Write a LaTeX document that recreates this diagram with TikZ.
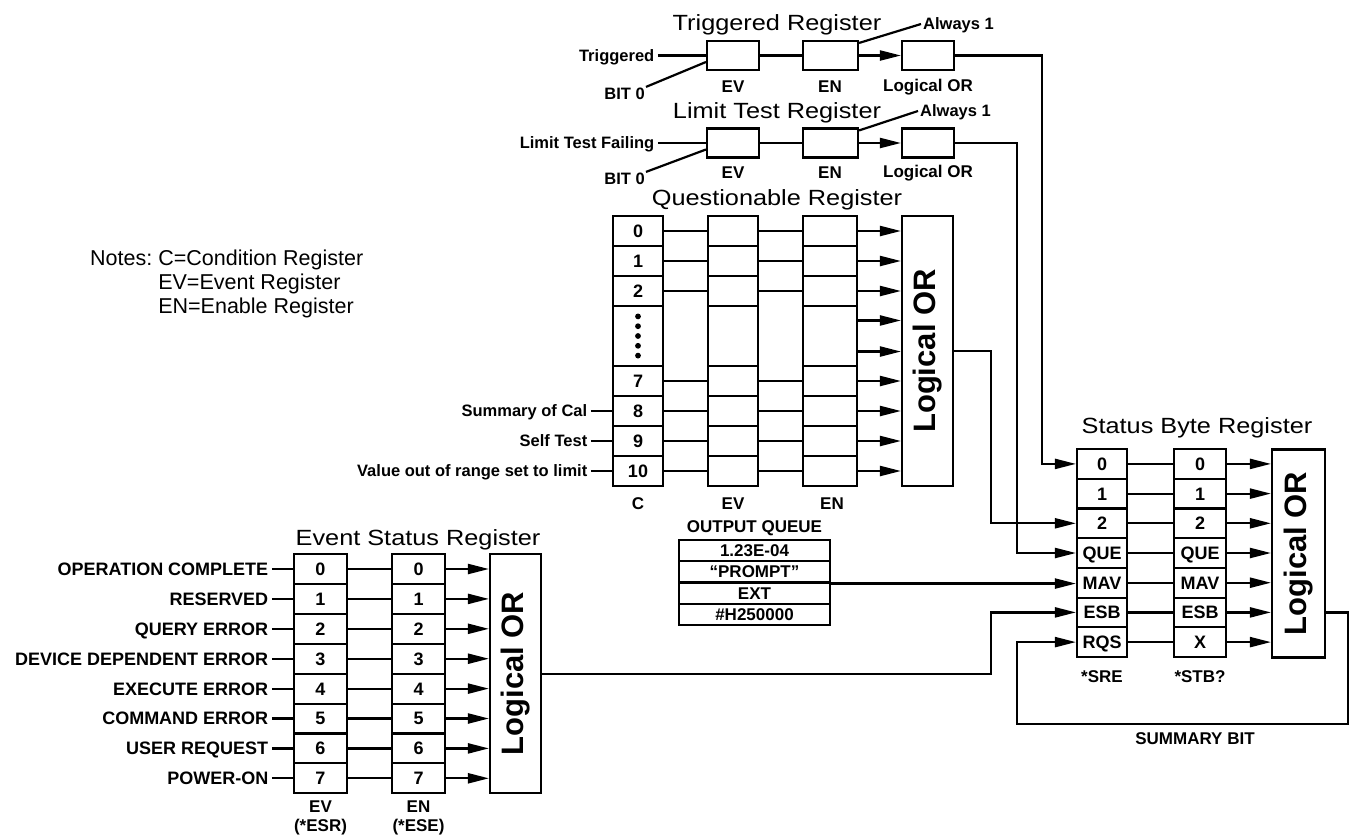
\documentclass[tikz,border=0pt]{standalone}
\usepackage{fontspec}
\setmainfont{Liberation Sans}
\newfontfamily\stretchsans[FakeStretch=1.15]{Liberation Sans}
\usetikzlibrary{arrows.meta,calc,positioning}

\newcommand{\regtitlefont}{\stretchsans\fontsize{22}{24}\selectfont}
\newcommand{\cellfont}{\bfseries\fontsize{18}{20}\selectfont}
\newcommand{\lblfont}{\bfseries\fontsize{16.5}{18}\selectfont}
\newcommand{\biglblfont}{\bfseries\fontsize{18}{20}\selectfont}
\newcommand{\subfont}{\bfseries\fontsize{17}{19}\selectfont}
\newcommand{\queuefont}{\bfseries\fontsize{17}{19}\selectfont}
\newcommand{\orfont}{\bfseries\fontsize{31}{34}\selectfont}
\newcommand{\notesfont}{\fontsize{21.5}{24}\selectfont}

\begin{document}
\begin{tikzpicture}[
  x=1pt, y=-1pt,
  wire/.style={line width=2.2pt},
  arr/.style={wire, -{Triangle[length=21pt,width=10pt]}},
  cell/.style={draw, line width=2.1pt, inner sep=0pt, minimum width=50pt,
    minimum height=30pt, font=\cellfont, text height=12.9pt, text depth=0pt},
  qcell/.style={cell, minimum height=21.25pt, minimum width=151pt, font=\queuefont,
    text height=12.2pt},
  orbox/.style={draw, line width=2.1pt, inner sep=0pt, minimum width=52pt, font=\orfont},
  lbl/.style={font=\lblfont, inner sep=3.5pt, text height=11.8pt, text depth=0pt},
  biglbl/.style={font=\biglblfont, inner sep=3.5pt, text height=12.9pt, text depth=0pt},
  sub/.style={font=\subfont, inner sep=1pt},
  regtitle/.style={font=\regtitlefont, anchor=base, inner sep=0pt}
]
\useasboundingbox (0,0) rectangle (1354,836);

% Triggered Register
\node[regtitle] (trTitle) at (777,30) {Triggered Register};
\node[cell, minimum width=52pt, minimum height=29pt] (trEV) at (733,55.5) {};
\node[cell, minimum width=55pt, minimum height=29pt] (trEN) at (830.5,55.5) {};
\node[cell, minimum width=52pt, minimum height=29pt] (trOR) at (928,55.5) {};
\node[lbl, left=48pt of trEV] (trIn) {Triggered};
\node[lbl, anchor=east, inner sep=1pt] (trBit) at (646,94) {BIT 0};
\node[lbl, anchor=west, inner sep=2pt] (trAlw) at (921,24) {Always 1};
\node[sub] (trEVl) at (733,87) {EV};
\node[sub] (trENl) at (830,87) {EN};
\node[sub] (trORl) at (928,87) {Logical OR};
\draw[wire] (trIn) -- (trEV);
\draw[wire] (trBit.north east) -- ($(trEV.west)+(0,6.5)$);
\draw[wire] (trEV) -- (trEN);
\draw[arr] (trEN) -- (trOR);
\draw[wire] ($(trEN.north east)+(0,3)$) -- (trAlw.west);

% Limit Test Register
\node[regtitle] (ltTitle) at (777,118) {Limit Test Register};
\node[cell, minimum width=52pt, minimum height=29pt] (ltEV) at (733,143) {};
\node[cell, minimum width=55pt, minimum height=29pt] (ltEN) at (830.5,143) {};
\node[cell, minimum width=52pt, minimum height=29pt] (ltOR) at (928,143) {};
\node[lbl, left=48pt of ltEV] (ltIn) {Limit Test Failing};
\node[lbl, anchor=east, inner sep=1pt] (ltBit) at (646,179) {BIT 0};
\node[lbl, anchor=west, inner sep=2pt] (ltAlw) at (918,111) {Always 1};
\node[sub] (ltEVl) at (733,173) {EV};
\node[sub] (ltENl) at (830,173) {EN};
\node[sub] (ltORl) at (928,173) {Logical OR};
\draw[wire] (ltIn) -- (ltEV);
\draw[wire] (ltBit.north east) -- ($(ltEV.west)+(0,6.5)$);
\draw[wire] (ltEV) -- (ltEN);
\draw[arr] (ltEN) -- (ltOR);
\draw[wire] ($(ltEN.north east)+(0,3)$) -- (ltAlw.west);

% Questionable Register
\node[regtitle] (qTitle) at (777,205) {Questionable Register};
\node[orbox, minimum width=51pt, minimum height=270pt] (qOR) at (927.5,351) {\rotatebox{90}{Logical OR}};
\foreach \r/\yy in {0/231,1/261,2/291,7/381,8/411,9/441,10/471}{
  \node[cell] (qC\r) at (638,\yy) {\r};
  \node[cell] (qEV\r) at (733,\yy) {};
  \node[cell, minimum width=54pt] (qEN\r) at (830,\yy) {};
  \draw[wire] (qC\r) -- (qEV\r);
  \draw[wire] (qEV\r) -- (qEN\r);
  \draw[arr] (qEN\r) -- (qEN\r -| qOR.west);
}
\node[cell, minimum height=60pt] (qCd) at (638,336) {};
\node[cell, minimum height=60pt] (qEVd) at (733,336) {};
\node[cell, minimum width=54pt, minimum height=60pt] (qENd) at (830,336) {};
\foreach \k in {-2,...,2}
  \fill ($(qCd.center)+(0,{9.8*\k})$) circle (2.9pt);
\coordinate (qDa) at ($(qENd.north east)!0.25!(qENd.south east)$);
\coordinate (qDb) at ($(qENd.north east)!0.75!(qENd.south east)$);
\draw[arr] (qDa) -- (qDa -| qOR.west);
\draw[arr] (qDb) -- (qDb -| qOR.west);
\foreach \r/\txt in {8/Summary of Cal,9/Self Test,10/Value out of range set to limit}{
  \node[lbl, left=21pt of qC\r] (qIn\r) {\txt};
  \draw[wire] (qIn\r) -- (qC\r);
}
\node[sub] (qCl) at (638,504) {C};
\node[sub] (qEVl) at (733,504) {EV};
\node[sub] (qENl) at (832,504) {EN};

% Output queue
\node[sub] (oqTitle) at (754.5,528) {OUTPUT QUEUE};
\foreach \k/\txt in {1/1.23E-04,2/``PROMPT'',3/EXT,4/\#H250000}
  \node[qcell] (oq\k) at (754.5,{540+21.25*(\k-0.5)}) {\txt};

% Notes
\node[font=\notesfont, anchor=base west, inner sep=0pt] (notes) at (90,265)
  {\begin{tabular}[t]{@{}l@{\ }l@{}}Notes: & C=Condition Register\\
   & EV=Event Register\\ & EN=Enable Register\end{tabular}};

% Event Status Register
\node[regtitle] (esTitle) at (418,545) {Event Status Register};
\node[orbox, minimum width=51pt, minimum height=239pt] (esOR) at (515.5,673.6) {\rotatebox{90}{Logical OR}};
\foreach \i/\txt in {0/OPERATION COMPLETE,1/RESERVED,2/QUERY ERROR,3/DEVICE DEPENDENT ERROR,
    4/EXECUTE ERROR,5/COMMAND ERROR,6/USER REQUEST,7/POWER-ON}{
  \node[cell, minimum width=53pt, minimum height=29.9pt] (esEV\i) at (320.5,{569+29.9*\i}) {\i};
  \node[cell, minimum width=53pt, minimum height=29.9pt] (esEN\i) at (418.5,{569+29.9*\i}) {\i};
  \node[biglbl, left=21pt of esEV\i] (esIn\i) {\txt};
  \draw[wire] (esIn\i) -- (esEV\i);
  \draw[wire] (esEV\i) -- (esEN\i);
  \draw[arr] (esEN\i) -- (esEN\i -| esOR.west);
}
\node[sub] (esEVl) at (320.5,807) {EV};
\node[sub] (esEVc) at (320.5,827) {(*ESR)};
\node[sub] (esENl) at (418.5,807) {EN};
\node[sub] (esENc) at (418.5,827) {(*ESE)};

% Status Byte Register
\node[regtitle] (sbTitle) at (1197,433) {Status Byte Register};
\node[orbox, minimum width=53pt, minimum height=208pt] (sbOR) at (1298.5,553.5) {\rotatebox{90}{Logical OR}};
\foreach \r/\a/\b in {0/0/0,1/1/1,2/2/2,3/QUE/QUE,4/MAV/MAV,5/ESB/ESB,6/RQS/X}{
  \node[cell, minimum height=29.7pt] (sre\a) at (1102,{463.9+29.7*\r}) {\a};
  \node[cell, minimum width=52pt, minimum height=29.7pt] (stb\r) at (1200,{463.9+29.7*\r}) {\b};
  \draw[wire] (sre\a) -- (stb\r);
  \draw[arr] (stb\r) -- (stb\r -| sbOR.west);
}
\node[sub] (sreL) at (1102,677) {*SRE};
\node[sub] (stbL) at (1200,677) {*STB?};

% connections into the status byte
\draw[arr] (trOR.east) -| ([xshift=-34pt]sre0.west) -- (sre0.west);
\draw[arr] (ltOR.east) -| ([xshift=-59pt]sreQUE.west) -- (sreQUE.west);
\draw[arr] (qOR.east) -| ([xshift=-85pt]sre2.west) -- (sre2.west);
\draw[arr] (esOR.east) -| ([xshift=-85pt]sreESB.west) -- (sreESB.west);
\draw[arr] (oq2.south east) -- (oq2.south east -| sreMAV.west);
\coordinate (sumR) at (1348,724);
\draw[arr] (sbOR.east |- sreESB) -| (sumR) -| ([xshift=-59pt]sreRQS.west) -- (sreRQS.west);
\node[sub] (sumLbl) at (1195,739) {SUMMARY BIT};
\end{tikzpicture}
\end{document}
